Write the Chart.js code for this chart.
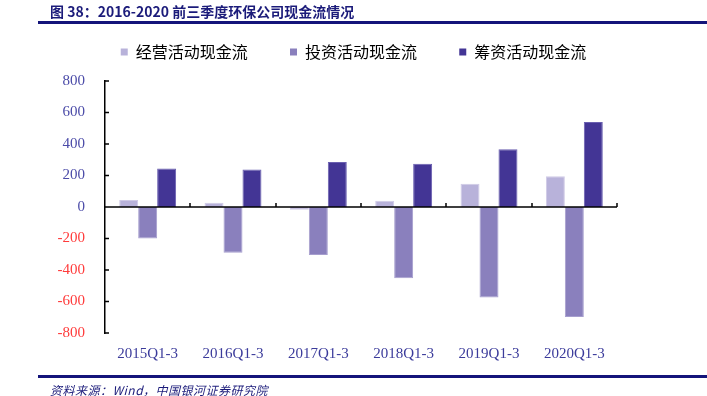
<!DOCTYPE html>
<html>
<head>
<meta charset="utf-8">
<script src="https://cdn.jsdelivr.net/npm/chart.js@4.4.0/dist/chart.umd.min.js"></script>
<style>
  html, body { margin: 0; padding: 0; background: #fff; }
  #wrap { position: relative; width: 707px; height: 396px; }
  #title { position: absolute; left: 50px; top: 1px; font: bold 14px "Noto Sans CJK SC", sans-serif; color: #1b1b7a; white-space: nowrap; }
  .rule { position: absolute; left: 38px; width: 669px; height: 3px; background: #14147a; }
  #source { position: absolute; left: 50px; top: 381px; font: italic 12px "Noto Sans CJK SC", sans-serif; letter-spacing: 0.5px; color: #1b1b7a; white-space: nowrap; }
</style>
</head>
<body>
<div id="wrap">
  <canvas id="chart" width="707" height="396"></canvas>
  <div id="title">图 38：2016-2020 前三季度环保公司现金流情况</div>
  <div class="rule" style="top:21px"></div>
  <div class="rule" style="top:375px"></div>
  <div id="source">资料来源：Wind，中国银河证券研究院</div>
</div>
<script>
// data
var periods = ["2015Q1-3", "2016Q1-3", "2017Q1-3", "2018Q1-3", "2019Q1-3", "2020Q1-3"];
var operating = [44, 27, -18, 40, 147, 195];
var investing = [-200, -290, -305, -453, -575, -698];
var financing = [245, 238, 285, 275, 366, 539];
var seriesNames = ["经营活动现金流", "投资活动现金流", "筹资活动现金流"];

// zero line + small inward tick marks like the original
var axisMarks = {
  id: "axisMarks",
  afterDatasetsDraw: function(chart) {
    var ctx = chart.ctx;
    var y = chart.scales.y;
    var area = chart.chartArea;
    var y0 = y.getPixelForValue(0);
    ctx.save();
    ctx.strokeStyle = "#000";
    ctx.lineWidth = 1.5;
    ctx.beginPath();
    ctx.moveTo(area.left, y0);
    ctx.lineTo(area.right, y0);
    // x ticks at category boundaries
    var step = (area.right - area.left) / periods.length;
    for (var i = 1; i <= periods.length; i++) {
      var px = Math.round(area.left + step * i);
      ctx.moveTo(px, y0);
      ctx.lineTo(px, y0 - 4);
    }
    // y ticks
    y.ticks.forEach(function(t) {
      var py = y.getPixelForValue(t.value);
      ctx.moveTo(area.left, py);
      ctx.lineTo(area.left + 4, py);
    });
    ctx.stroke();
    ctx.restore();
  }
};

// extra room under the legend
var legendGap = {
  id: "legendGap",
  beforeInit: function(chart) {
    var fit = chart.legend.fit;
    chart.legend.fit = function() {
      fit.bind(chart.legend)();
      this.height += 11;
    };
  }
};

new Chart("chart", {
  type: "bar",
  data: {
    labels: periods,
    datasets: [{
      label: seriesNames[0],
      data: operating,
      backgroundColor: "#b8b2da",
      borderColor: "#cfcae6",
      borderWidth: 1
    }, {
      label: seriesNames[1],
      data: investing,
      backgroundColor: "#8a80bd",
      borderColor: "#a69ece",
      borderWidth: 1
    }, {
      label: seriesNames[2],
      data: financing,
      backgroundColor: "#433595",
      borderColor: "#6a5fb0",
      borderWidth: 1
    }]
  },
  options: {
    responsive: false,
    animation: false,
    layout: { padding: { top: 34, right: 0, bottom: 0, left: 0 } },
    datasets: { bar: { categoryPercentage: 0.667, barPercentage: 1.0 } },
    plugins: {
      legend: {
        labels: {
          boxWidth: 7,
          boxHeight: 7,
          padding: 10,
          color: "#777777",
          font: { family: "'Noto Sans CJK SC', sans-serif", size: 16 },
          generateLabels: function(chart) {
            return chart.data.datasets.map(function(ds, i) {
              var tail = i < 2 ? "         " : "";
              return { text: ds.label + tail, fillStyle: ds.backgroundColor, strokeStyle: ds.backgroundColor, lineWidth: 0, datasetIndex: i };
            });
          }
        }
      },
      tooltip: { enabled: false }
    },
    scales: {
      x: {
        grid: { display: false },
        border: { display: false },
        ticks: {
          padding: 4,
          color: "#3b3b9b",
          font: { family: "'Liberation Serif', serif", size: 15 }
        },
        afterFit: function(s) { s.height = 63; }
      },
      y: {
        min: -800,
        max: 800,
        grid: { display: false },
        border: { display: true, color: "#000", width: 1.5 },
        ticks: {
          stepSize: 200,
          padding: 12,
          color: function(c) { return c.tick.value < 0 ? "#ff3b3b" : "#4b4ba8"; },
          font: { family: "'Liberation Serif', serif", size: 15 }
        },
        afterFit: function(s) { s.width = 105; }
      },
      // empty right-hand axis, only to keep the plot narrower than the legend row
      yRight: {
        position: "right",
        min: -800,
        max: 800,
        grid: { display: false },
        border: { display: false },
        ticks: { display: false },
        afterFit: function(s) { s.width = 90; }
      }
    }
  },
  plugins: [axisMarks, legendGap]
});
</script>
</body>
</html>
